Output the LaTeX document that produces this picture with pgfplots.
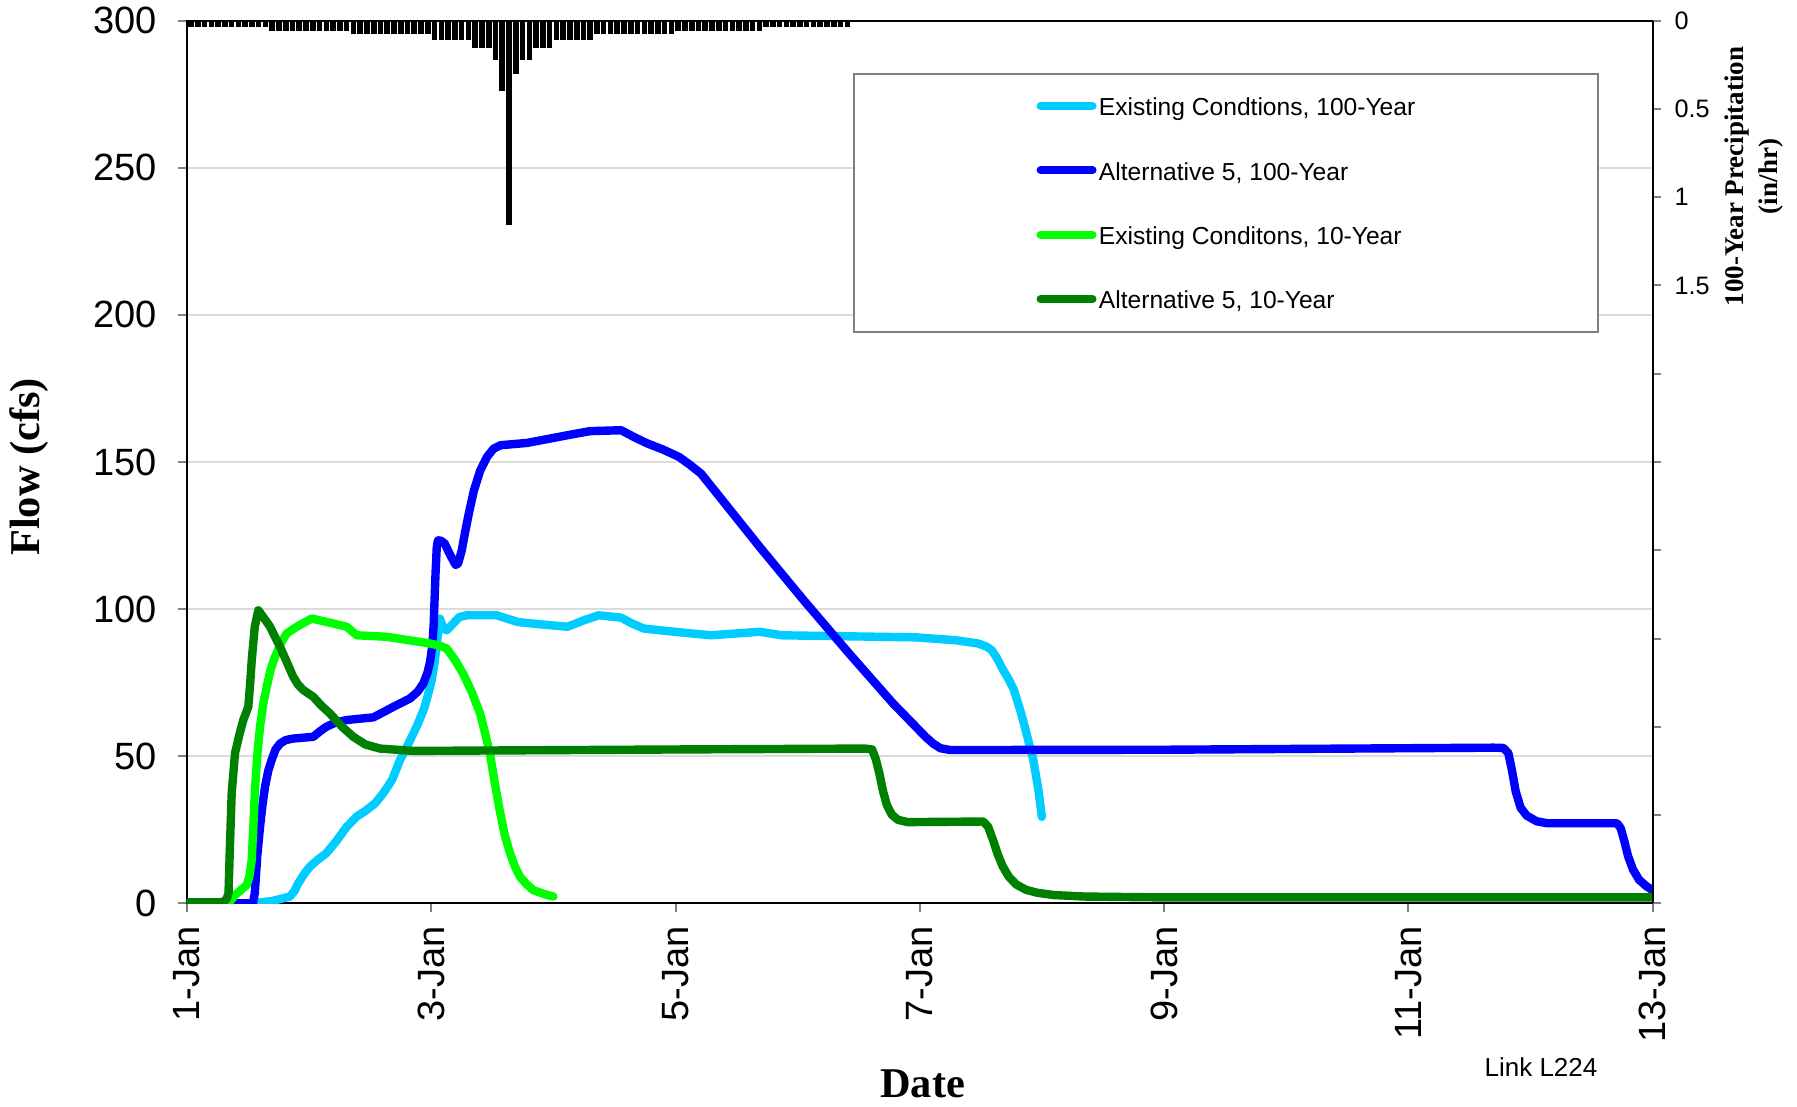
\documentclass[border=0pt]{standalone}
\usepackage{fontspec}
\setmainfont{Liberation Sans}
\newfontfamily\seriffont{Liberation Serif}
\usepackage{pgfplots}
\pgfplotsset{compat=1.18}

\definecolor{exist100}{HTML}{00CCFF}
\definecolor{alt100}{HTML}{0000FF}
\definecolor{exist10}{HTML}{00FF00}
\definecolor{alt10}{HTML}{008000}

\begin{document}
\begin{tikzpicture}
\useasboundingbox (-46.75pt,-50.675pt) rectangle (402.5pt,225.825pt);

% flow axis (left)
\begin{axis}[
  scale only axis, width=366.375pt, height=220.65pt,
  at={(0pt,0pt)}, anchor=south west,
  xmin=0, xmax=12, ymin=0, ymax=300,
  xtick={0,2,...,12},
  xticklabels={1-Jan,3-Jan,5-Jan,7-Jan,9-Jan,11-Jan,13-Jan},
  ytick={0,50,...,300},
  tick pos=left, tick align=outside,
  major tick length=2.2pt,
  major tick style={draw=gray, line width=0.5pt},
  ymajorgrids, major grid style={draw=black!14, line width=0.5pt},
  axis line style={line width=0.5pt},
  ticklabel style={font=\fontsize{9.5}{11}\selectfont},
  /pgf/number format/assume math mode=true,
  xticklabel style={rotate=90, anchor=east},
  yticklabel style={xshift=-1.8pt},
  legend cell align=left,
  legend image code/.code={\draw[#1, line width=2pt, line cap=round] (0pt,1.0pt) -- (13pt,1.0pt);},
  legend style={draw=none, fill=none, inner sep=0pt, outer sep=0pt,
    at={(0.5797,0.9355)}, anchor=north west,
    nodes={inner sep=0.6pt, minimum height=16.1pt, font=\fontsize{6.15}{7}\selectfont},
    column sep=0pt, row sep=0pt},
  every axis plot/.append style={line width=2.1pt, line cap=round, line join=round},
]
\draw[draw=gray, line width=0.5pt, fill=white] (rel axis cs:0.4551,0.6470) rectangle (rel axis cs:0.9628,0.9393);

\addplot[exist100] coordinates {
(0,0) (0.54,0) (0.70,0.8) (0.843,2.3) (0.88,4.2) (0.911,6.8) (0.96,10)
(1.005,12.4) (1.07,14.8) (1.14,17) (1.22,21) (1.308,26) (1.39,29.5)
(1.47,31.7) (1.54,34) (1.607,37.4) (1.68,42) (1.744,48.7) (1.81,54)
(1.88,60) (1.94,66) (1.976,71.3) (2.005,76) (2.03,82.6) (2.05,90)
(2.07,96.8) (2.10,93.5) (2.126,92.8) (2.18,95.1) (2.23,97.3) (2.29,97.9)
(2.535,97.9) (2.71,95.6) (2.9,94.8) (3.115,94.0) (3.25,96.2) (3.37,97.9)
(3.555,97.1) (3.64,95.2) (3.74,93.4) (3.99,92.3) (4.29,91.1) (4.69,92.3)
(4.87,91.1) (5.97,90.4) (6.30,89.4) (6.48,88.3) (6.55,87.2) (6.59,86)
(6.63,83.5) (6.68,79.5) (6.73,76) (6.77,72.6) (6.82,66) (6.86,60)
(6.90,53.5) (6.93,48.7) (6.97,39) (7.0,29.4)
};
\addlegendentry{Existing Condtions, 100-Year}

\addplot[alt100] coordinates {
(0,0) (0.54,0) (0.555,3.4) (0.575,16) (0.598,26) (0.62,34) (0.639,39.6)
(0.665,45) (0.693,48.7) (0.725,52.3) (0.762,54.3) (0.81,55.5) (0.870,56)
(1.034,56.6) (1.09,58.5) (1.14,60) (1.22,61.5) (1.308,62.3) (1.525,63.2)
(1.61,65) (1.69,66.8) (1.826,69.6) (1.89,72) (1.935,74.7) (1.97,78.5)
(1.99,82) (2.01,88) (2.02,95) (2.035,112) (2.045,121) (2.055,123.4)
(2.08,123.2) (2.11,122.3) (2.16,118) (2.20,115) (2.22,115.5) (2.25,120)
(2.275,125.7) (2.31,133) (2.35,140.4) (2.40,147) (2.456,151.7)
(2.51,154.5) (2.567,155.7) (2.786,156.5) (3.115,159.1) (3.30,160.5)
(3.555,160.8) (3.66,158.5) (3.77,156.3) (3.90,154.2) (4.03,151.7)
(4.12,149) (4.21,146) (4.69,121.1) (5.05,103) (5.42,85) (5.78,68)
(6.05,56.5) (6.11,54.3) (6.17,52.7) (6.25,52.1) (8.0,52.2) (10.70,52.9)
(10.78,52.8) (10.82,51) (10.85,45) (10.88,38) (10.92,32.5) (10.97,29.8)
(11.05,27.9) (11.14,27.2) (11.71,27.2) (11.74,25.5) (11.77,21) (11.80,16)
(11.84,11.5) (11.89,8) (11.95,5.8) (12.0,4.5)
};
\addlegendentry{Alternative 5, 100-Year}

\addplot[exist10] coordinates {
(0,0) (0.34,0) (0.393,2.8) (0.44,4.5) (0.489,6.2) (0.51,9) (0.530,14.7)
(0.542,25) (0.555,37.4) (0.575,50) (0.598,60) (0.625,68) (0.653,73.6)
(0.685,79.5) (0.721,83.8) (0.77,88.5) (0.816,91.7) (0.898,94) (1.021,96.8)
(1.198,95.1) (1.308,94) (1.39,91.1) (1.635,90.6) (1.99,88.3) (2.07,87.6)
(2.126,86.6) (2.19,83) (2.26,78.1) (2.33,72) (2.40,64.5) (2.44,58) (2.48,51)
(2.52,41) (2.56,31.7) (2.60,23.5) (2.645,17) (2.685,12.5) (2.727,9)
(2.78,6.5) (2.835,4.5) (2.92,3.2) (3.0,2.3)
};
\addlegendentry{Existing Conditons, 10-Year}

\addplot[alt10] coordinates {
(0,0.3) (0.29,0.3) (0.325,1.5) (0.34,3.5) (0.352,20) (0.366,37.4)
(0.393,51) (0.43,57.5) (0.461,62.3) (0.502,66.8) (0.516,74) (0.530,82.6)
(0.555,94) (0.584,99.6) (0.630,97) (0.680,94) (0.762,87.2) (0.870,77)
(0.91,74.3) (0.952,72.5) (1.034,70.2) (1.10,67.2) (1.171,64.5) (1.27,60)
(1.362,56.6) (1.46,54) (1.58,52.6) (1.853,51.8) (4.04,52.3) (5.55,52.6)
(5.61,52.3) (5.64,49) (5.67,44) (5.70,38) (5.73,33.5) (5.77,30.2)
(5.82,28.4) (5.90,27.6) (6.52,27.8) (6.56,26) (6.60,21.5) (6.64,16.5)
(6.68,12.5) (6.73,9) (6.79,6.4) (6.87,4.6) (6.96,3.6) (7.1,2.8) (7.35,2.3)
(8.0,2.0) (12.0,2.0)
};
\addlegendentry{Alternative 5, 10-Year}
\end{axis}

% precipitation axis (right, reversed)
\begin{axis}[
  scale only axis, width=366.375pt, height=220.65pt,
  at={(0pt,0pt)}, anchor=south west,
  xmin=0, xmax=12, ymin=0, ymax=5, y dir=reverse,
  axis x line=none, axis y line*=right,
  ytick={0,0.5,...,5},
  yticklabels={0,0.5,1,1.5,{},{},{},{},{},{},{}},
  tick align=outside, major tick length=2pt,
  major tick style={draw=gray, line width=0.5pt},
  axis line style={line width=0.5pt},
  yticklabel style={font=\fontsize{6.3}{7}\selectfont},
  ybar, bar width=0.036,
]
\addplot[fill=black, draw=black, line width=0.3pt] table {
x y
0.033 0.03
0.088 0.03
0.144 0.03
0.199 0.03
0.255 0.03
0.310 0.03
0.365 0.03
0.421 0.03
0.476 0.03
0.532 0.03
0.587 0.03
0.642 0.03
0.698 0.053
0.753 0.053
0.809 0.053
0.864 0.053
0.919 0.053
0.975 0.053
1.030 0.053
1.086 0.053
1.141 0.053
1.196 0.053
1.252 0.053
1.307 0.053
1.363 0.071
1.418 0.071
1.473 0.071
1.529 0.071
1.584 0.071
1.640 0.071
1.695 0.071
1.750 0.071
1.806 0.071
1.861 0.071
1.917 0.071
1.972 0.071
2.027 0.104
2.083 0.104
2.138 0.104
2.194 0.104
2.249 0.104
2.304 0.104
2.360 0.15
2.415 0.15
2.471 0.15
2.526 0.218
2.581 0.396
2.637 1.152
2.692 0.298
2.748 0.218
2.803 0.218
2.858 0.15
2.914 0.15
2.969 0.15
3.025 0.104
3.080 0.104
3.135 0.104
3.191 0.104
3.246 0.104
3.302 0.104
3.357 0.071
3.412 0.071
3.468 0.071
3.523 0.071
3.579 0.071
3.634 0.071
3.689 0.071
3.745 0.071
3.800 0.071
3.856 0.071
3.911 0.071
3.966 0.071
4.022 0.053
4.077 0.053
4.133 0.053
4.188 0.053
4.243 0.053
4.299 0.053
4.354 0.053
4.410 0.053
4.465 0.053
4.520 0.053
4.576 0.053
4.631 0.053
4.687 0.053
4.742 0.03
4.797 0.03
4.853 0.03
4.908 0.03
4.964 0.03
5.019 0.03
5.074 0.03
5.130 0.03
5.185 0.03
5.241 0.03
5.296 0.03
5.351 0.03
5.407 0.03
};
\end{axis}

\node[rotate=90, font=\seriffont\bfseries\fontsize{10.6}{12}\selectfont] at (-39.5pt,109.1pt) {Flow (cfs)};
\node[font=\seriffont\bfseries\fontsize{10.6}{12}\selectfont] at (183.9pt,-45.2pt) {Date};
\node[font=\fontsize{6.5}{8}\selectfont] at (338.5pt,-40.9pt) {Link L224};
\node[rotate=90, font=\seriffont\bfseries\fontsize{6.75}{8}\selectfont] at (387.4pt,181.7pt) {100-Year Precipitation};
\node[rotate=90, font=\seriffont\bfseries\fontsize{6.75}{8}\selectfont] at (395.9pt,181.7pt) {(in/hr)};
\end{tikzpicture}
\end{document}
